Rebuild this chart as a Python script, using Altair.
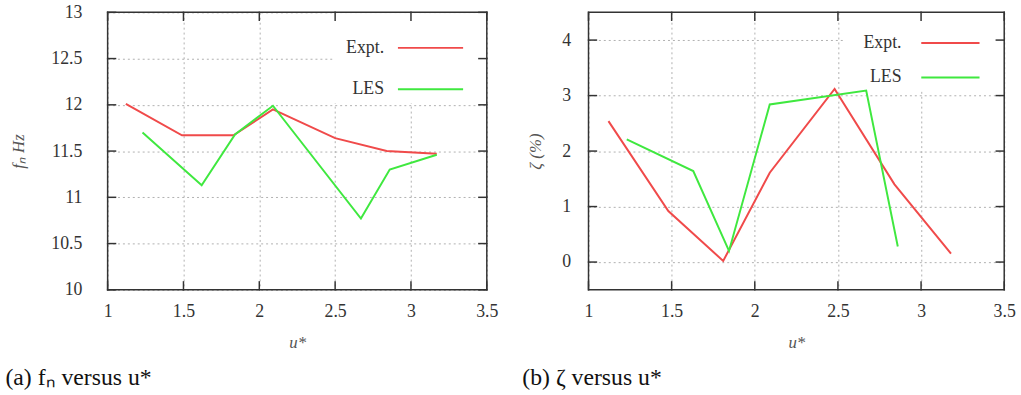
import altair as alt
import pandas as pd

# ---------------- data ----------------
series_names = ["Expt.", "LES"]
line_colors = ["#f04a4a", "#3fe83f"]

# (a) natural frequency f_n (Hz) versus u*
fa_expt_u = [1.12, 1.49, 1.83, 2.09, 2.50, 2.84, 3.17]
fa_expt_v = [12.01, 11.67, 11.67, 11.95, 11.64, 11.50, 11.47]
fa_les_u = [1.23, 1.62, 1.84, 2.09, 2.67, 2.86, 3.17]
fa_les_v = [11.70, 11.13, 11.68, 11.99, 10.77, 11.30, 11.46]

# (b) damping ratio zeta (%) versus u*
zb_expt_u = [1.12, 1.48, 1.81, 2.09, 2.48, 2.84, 3.18]
zb_expt_v = [2.54, 0.92, 0.02, 1.61, 3.12, 1.40, 0.15]
zb_les_u = [1.23, 1.63, 1.845, 2.09, 2.67, 2.86]
zb_les_v = [2.21, 1.64, 0.20, 2.84, 3.09, 0.28]

x_ticks = [1, 1.5, 2, 2.5, 3, 3.5]
fa_ticks = [10, 10.5, 11, 11.5, 12, 12.5, 13]
zb_ticks = [0, 1, 2, 3, 4]

SERIF = "Liberation Serif"
FRAME = "#333333"
XDOM = [1, 3.5]


def make_df(eu, ev, lu, lv):
    rows = []
    for i, (u, v) in enumerate(zip(eu, ev)):
        rows.append({"u": u, "val": v, "series": series_names[0], "i": i})
    for i, (u, v) in enumerate(zip(lu, lv)):
        rows.append({"u": u, "val": v, "series": series_names[1], "i": i})
    return pd.DataFrame(rows)


def decor_df(ydom, yticks, W, H, tl=8):
    """Frame and inward (gnuplot-style) tick segments, in data units."""
    x0, x1 = XDOM
    y0, y1 = ydom
    dx = tl / W * (x1 - x0)
    dy = tl / H * (y1 - y0)
    rows = []
    seg = 0
    for k, (u, v) in enumerate([(x0, y0), (x1, y0), (x1, y1), (x0, y1), (x0, y0)]):
        rows.append({"u": u, "val": v, "seg": seg, "k": k})
    for t in x_ticks:
        seg += 1
        rows += [{"u": t, "val": y0, "seg": seg, "k": 0}, {"u": t, "val": y0 + dy, "seg": seg, "k": 1}]
        seg += 1
        rows += [{"u": t, "val": y1, "seg": seg, "k": 0}, {"u": t, "val": y1 - dy, "seg": seg, "k": 1}]
    for t in yticks:
        seg += 1
        rows += [{"u": x0, "val": t, "seg": seg, "k": 0}, {"u": x0 + dx, "val": t, "seg": seg, "k": 1}]
        seg += 1
        rows += [{"u": x1, "val": t, "seg": seg, "k": 0}, {"u": x1 - dx, "val": t, "seg": seg, "k": 1}]
    return pd.DataFrame(rows)


def panel(df, ydom, yticks, ytitle, caption, W, H, label_pad, title_pad,
          leg_text_x, leg_line_x0, leg_line_x1, leg_y0, leg_y1, box_x0, box_y1):
    common = dict(grid=True, ticks=False, domain=False, labelFlush=False,
                  labelFont=SERIF, labelFontSize=18, labelColor="#333333",
                  titleFont=SERIF, titleFontStyle="italic", titleFontWeight="normal",
                  titleFontSize=17, titleColor="#555555",
                  gridColor="#b0b0b0", gridDash=[2, 3], gridWidth=1, format="~g")
    xaxis = alt.Axis(values=x_ticks, title="u*", titlePadding=14, labelPadding=13, **common)
    yaxis = alt.Axis(values=yticks, title=ytitle, titlePadding=title_pad,
                     labelPadding=label_pad, **common)
    xsc = alt.Scale(domain=XDOM, nice=False, zero=False)
    ysc = alt.Scale(domain=ydom, nice=False, zero=False)

    box = alt.Chart(pd.DataFrame({"k": [0]})).mark_rect(color="white").encode(
        x=alt.value(box_x0), x2=alt.value(W - 1), y=alt.value(1), y2=alt.value(box_y1)
    )

    lines = alt.Chart(df).mark_line(strokeWidth=2).encode(
        x=alt.X("u:Q", scale=xsc, axis=xaxis),
        y=alt.Y("val:Q", scale=ysc, axis=yaxis),
        color=alt.Color("series:N",
                        scale=alt.Scale(domain=series_names, range=line_colors),
                        legend=None),
        order="i:O",
    )

    leg_layers = []
    for name, col, yy in zip(series_names, line_colors, [leg_y0, leg_y1]):
        d = pd.DataFrame({"series": [name]})
        leg_layers.append(
            alt.Chart(d).mark_text(align="right", baseline="middle", font=SERIF,
                                   fontSize=18, color="#333333").encode(
                text="series:N", x=alt.value(leg_text_x), y=alt.value(yy))
        )
        leg_layers.append(
            alt.Chart(d).mark_rule(color=col, strokeWidth=2).encode(
                x=alt.value(leg_line_x0), x2=alt.value(leg_line_x1), y=alt.value(yy))
        )

    decor = alt.Chart(decor_df(ydom, yticks, W, H)).mark_line(
        color=FRAME, strokeWidth=1.5, strokeCap="square").encode(
        x=alt.X("u:Q", scale=xsc, axis=xaxis),
        y=alt.Y("val:Q", scale=ysc, axis=yaxis),
        detail="seg:N",
        order="k:O",
    )

    return alt.layer(box, lines, *leg_layers, decor).properties(
        width=W, height=H,
        title=alt.TitleParams(caption, orient="bottom", anchor="start", font=SERIF,
                              fontSize=24, fontWeight="normal", color="#111111",
                              offset=16, dx=-4),
    )


df_a = make_df(fa_expt_u, fa_expt_v, fa_les_u, fa_les_v)
df_b = make_df(zb_expt_u, zb_expt_v, zb_les_u, zb_les_v)

pa = panel(df_a, [10, 13], fa_ticks, "fₙ Hz", "(a) fₙ versus u*", 384, 281,
           label_pad=26, title_pad=24,
           leg_text_x=280, leg_line_x0=294, leg_line_x1=360, leg_y0=36, leg_y1=78,
           box_x0=228, box_y1=92)
pb = panel(df_b, [-0.5, 4.5], zb_ticks, "ζ (%)", "(b) ζ versus u*", 421, 281,
           label_pad=18, title_pad=18,
           leg_text_x=317, leg_line_x0=337, leg_line_x1=396, leg_y0=31, leg_y1=66,
           box_x0=258, box_y1=80)

chart = alt.hconcat(pa, pb, spacing=24).properties(
    padding={"left": 5, "top": 1, "right": 5, "bottom": 0},
).configure_view(strokeOpacity=0)

chart.save("out.html", embed_options={"renderer": "svg", "actions": False})
